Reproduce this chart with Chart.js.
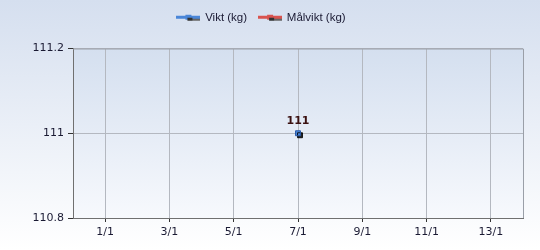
<!DOCTYPE html>
<html>
<head>
<meta charset="utf-8">
<script src="https://cdn.jsdelivr.net/npm/chart.js@4/dist/chart.umd.min.js"></script>
<style>
  html, body { margin: 0; padding: 0; background: #fff; }
  #wrap { width: 540px; height: 250px; position: relative; }
</style>
</head>
<body>
<div id="wrap"><canvas id="viktChart" width="540" height="250"></canvas></div>
<script>
// Dagar (dag i januari) och vikter
const dagar = [7];
const vikt = [111];
const malvikt = [];
const xTicks = [1, 3, 5, 7, 9, 11, 13];
const yTicks = [110.8, 111, 111.2];

const FONT = 'DejaVu Sans';
const LEGEND_FONT = 'Liberation Sans';
const TEXT = '#1a1a33';

// liten ikon för legenden: linje med fyrkant
function legendIcon(color) {
    const c = document.createElement('canvas');
    c.width = 24; c.height = 10;
    const g = c.getContext('2d');
    g.fillStyle = color;
    g.fillRect(0, 3, 24, 3);
    g.fillStyle = '#666';
    g.fillRect(12, 6, 12, 2);
    g.fillStyle = color;
    g.fillRect(9, 2, 6, 5);
    g.fillStyle = '#333';
    g.fillRect(11, 5, 5, 3);
    return c;
}

// bakgrund för hela bilden och plottytan
const bakgrund = {
    id: 'bakgrund',
    afterInit(chart) {
        // mer luft under legenden
        const lg = chart.legend;
        if (lg && !lg._extra) {
            const fit = lg.fit;
            lg.fit = function() {
                fit.call(this);
                this.height += 15;
            };
            lg._extra = true;
        }
    },
    beforeDraw(chart) {
        const ctx = chart.ctx;
        const a = chart.chartArea;
        let g = ctx.createLinearGradient(0, 0, 0, chart.height);
        g.addColorStop(0, '#d5dfef');
        g.addColorStop(1, '#ffffff');
        ctx.save();
        ctx.fillStyle = g;
        ctx.fillRect(0, 0, chart.width, chart.height);
        g = ctx.createLinearGradient(0, a.top, 0, a.bottom);
        g.addColorStop(0, '#d4dfef');
        g.addColorStop(1, '#f7f9fd');
        ctx.fillStyle = g;
        ctx.fillRect(a.left, a.top, a.right - a.left, a.bottom - a.top);
        ctx.restore();
    },
    afterDraw(chart) {
        const ctx = chart.ctx;
        const a = chart.chartArea;
        ctx.save();
        ctx.strokeStyle = '#9a9fa8';
        ctx.lineWidth = 1;
        ctx.beginPath();
        ctx.moveTo(a.left, a.top + 0.5);
        ctx.lineTo(a.right + 0.5, a.top + 0.5);
        ctx.lineTo(a.right + 0.5, a.bottom);
        ctx.stroke();
        ctx.restore();
    }
};

// skugga bakom punkterna
const skugga = {
    id: 'skugga',
    beforeDatasetDraw(chart) {
        const ctx = chart.ctx;
        ctx.save();
        ctx.shadowColor = 'rgba(0,0,0,0.85)';
        ctx.shadowOffsetX = 2;
        ctx.shadowOffsetY = 2;
        ctx.shadowBlur = 0;
    },
    afterDatasetDraw(chart) {
        chart.ctx.restore();
    }
};

// värdeetikett ovanför punkten
const etiketter = {
    id: 'etiketter',
    afterDatasetsDraw(chart) {
        const ctx = chart.ctx;
        const meta = chart.getDatasetMeta(0);
        ctx.save();
        ctx.font = 'bold 11px ' + FONT;
        ctx.fillStyle = '#3a1010';
        ctx.textAlign = 'center';
        ctx.textBaseline = 'middle';
        meta.data.forEach((p, i) => {
            ctx.fillText(String(vikt[i]), p.x, p.y - 12);
        });
        ctx.restore();
    }
};

const ctx = document.getElementById('viktChart').getContext('2d');
const chart = new Chart(ctx, {
    type: 'line',
    data: {
        datasets: [
            {
                label: 'Vikt (kg)',
                data: dagar.map((d, i) => ({ x: d, y: vikt[i] })),
                borderColor: '#4a86d8',
                backgroundColor: '#4a86d8',
                borderWidth: 3,
                pointStyle: 'rect',
                pointRadius: 3.5,
                pointBorderColor: '#2a5aa8',
                pointBorderWidth: 1,
                pointBackgroundColor: '#4a86d8'
            },
            {
                label: 'Målvikt (kg)',
                data: malvikt,
                borderColor: '#d9534f',
                backgroundColor: '#d9534f',
                borderWidth: 3
            }
        ]
    },
    options: {
        responsive: false,
        animation: false,
        layout: { padding: { left: 0, right: 17, top: 0, bottom: 0 } },
        plugins: {
            tooltip: { enabled: false },
            legend: {
                position: 'top',
                labels: {
                    usePointStyle: true,
                    pointStyleWidth: 22,
                    boxHeight: 10,
                    padding: 12,
                    color: TEXT,
                    font: { family: LEGEND_FONT, size: 11.5 },
                    generateLabels(chart) {
                        return chart.data.datasets.map((ds, i) => ({
                            text: ds.label,
                            pointStyle: legendIcon(ds.borderColor),
                            fillStyle: ds.borderColor,
                            strokeStyle: ds.borderColor,
                            lineWidth: 0,
                            hidden: false,
                            datasetIndex: i,
                            fontColor: TEXT
                        }));
                    }
                }
            }
        },
        scales: {
            x: {
                type: 'linear',
                min: 0,
                max: 14,
                afterBuildTicks(axis) {
                    axis.ticks = xTicks.map(v => ({ value: v }));
                },
                afterFit(axis) { axis.height = 32; },
                border: { color: '#707070', width: 1 },
                grid: {
                    color: '#b4b8c0',
                    tickLength: 4,
                    tickColor: '#333'
                },
                ticks: {
                    color: TEXT,
                    font: { family: FONT, size: 11 },
                    padding: 4,
                    maxRotation: 0,
                    callback: v => v + '/1'
                }
            },
            y: {
                min: 110.8,
                max: 111.2,
                afterBuildTicks(axis) {
                    axis.ticks = yTicks.map(v => ({ value: v }));
                },
                afterFit(axis) { axis.width = 73; },
                border: { color: '#707070', width: 1 },
                grid: {
                    color: '#b4b8c0',
                    tickLength: 5,
                    tickColor: '#333'
                },
                ticks: {
                    color: TEXT,
                    font: { family: FONT, size: 11 },
                    padding: 4,
                    callback: v => String(Math.round(v * 10) / 10)
                }
            }
        }
    },
    plugins: [bakgrund, skugga, etiketter]
});
</script>
</body>
</html>
